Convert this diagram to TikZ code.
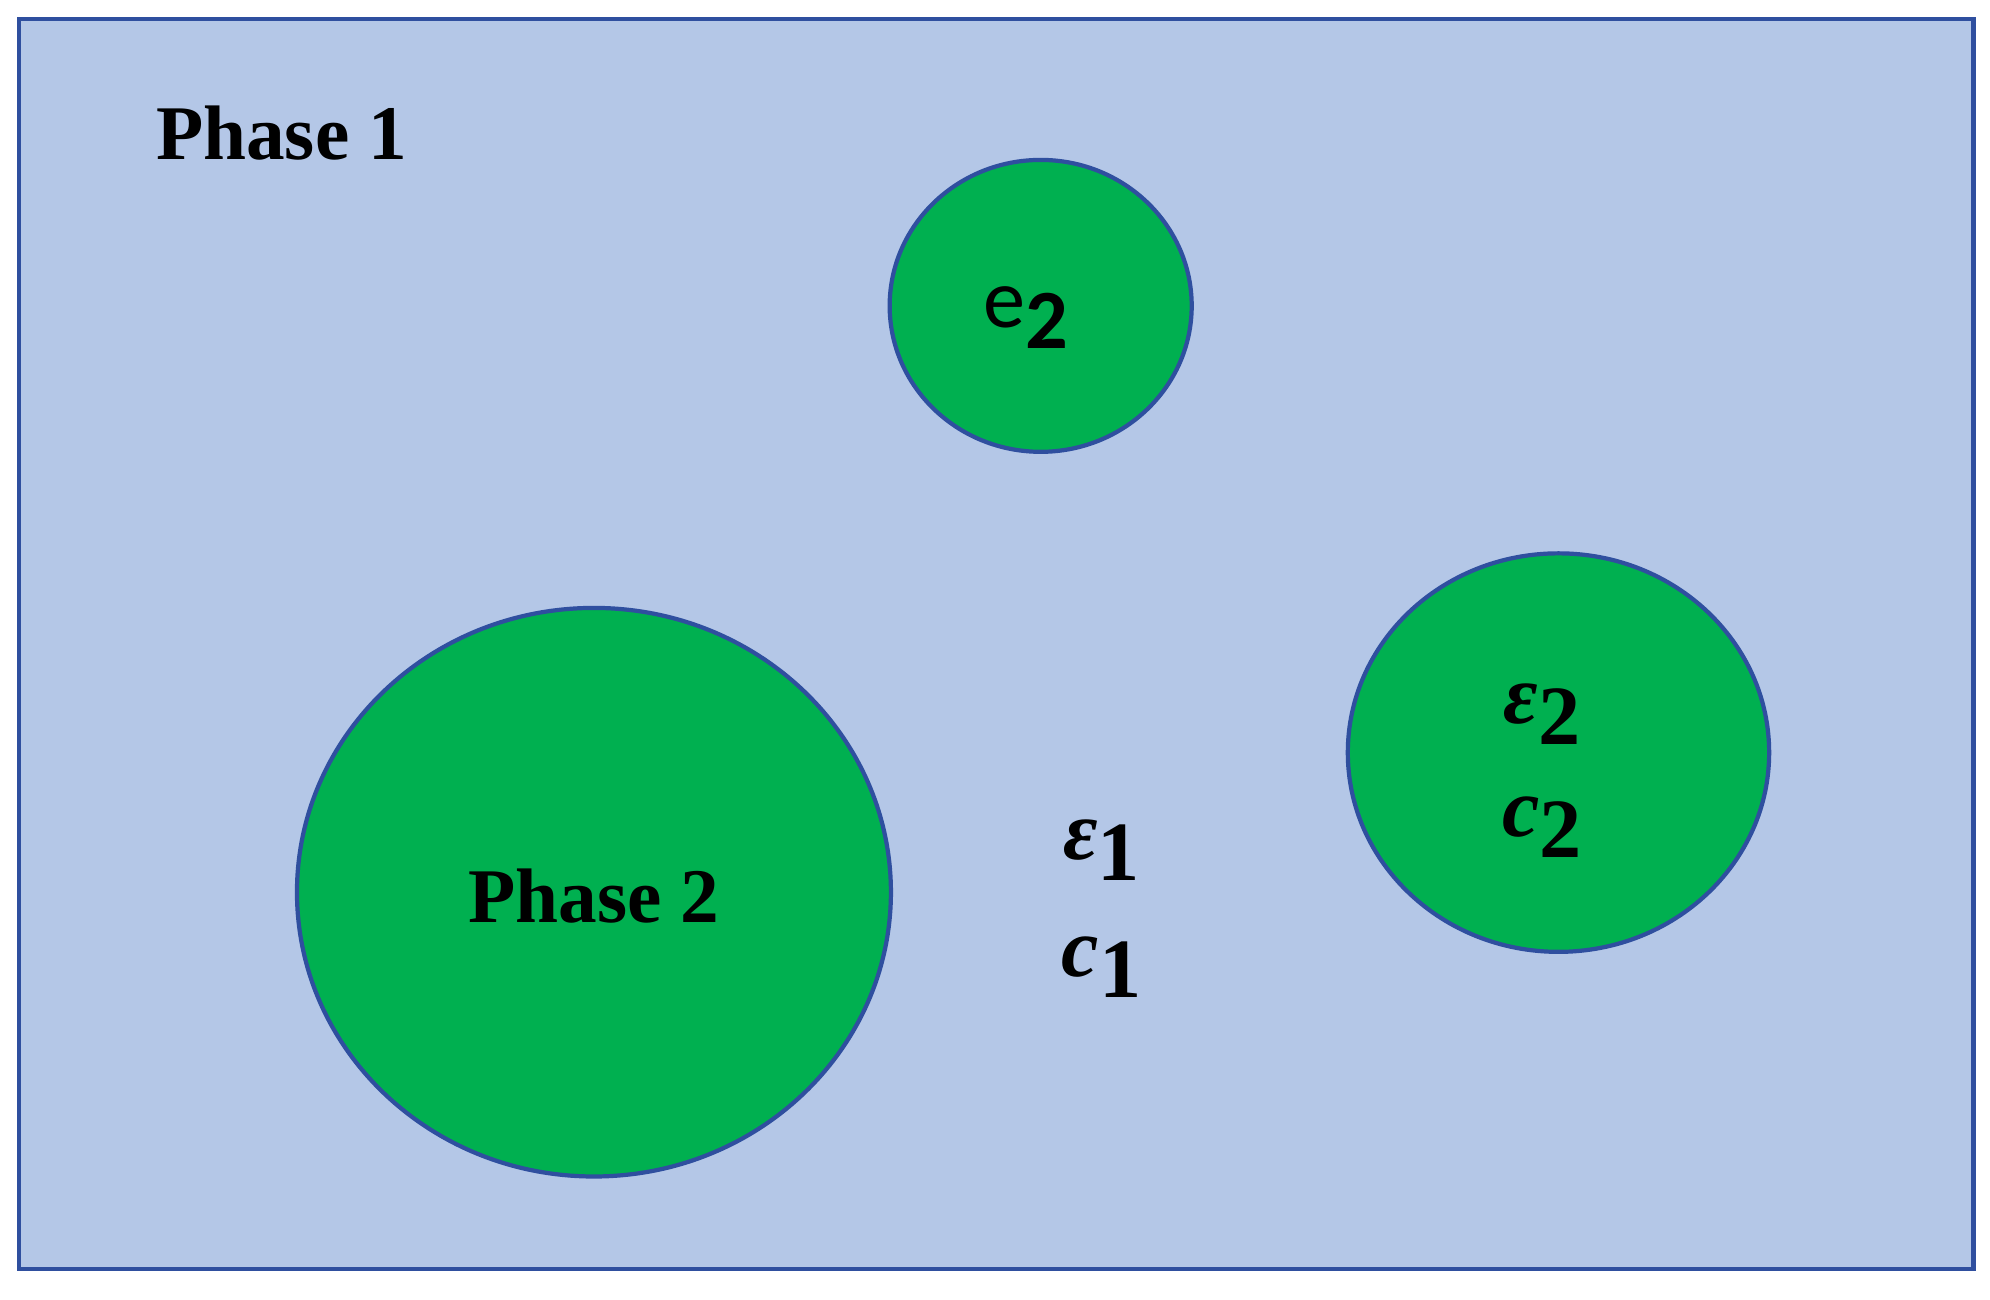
\documentclass[tikz,border=0pt]{standalone}
\usepackage{fontspec}
\setmainfont{Liberation Serif}
\newfontfamily\calfont{Carlito}
\definecolor{bgblue}{HTML}{B4C7E7}
\definecolor{edgeblue}{HTML}{2F4F9F}
\definecolor{grn}{HTML}{00B050}
\newcommand{\symb}[2]{{\bfseries\itshape #1}\raisebox{-0.25em}{\bfseries #2}}
\begin{document}
\begin{tikzpicture}[x=0.012691cm,y=-0.012691cm,
  blob/.style={draw=edgeblue,line width=1.2pt,fill=grn},
  lbl/.style={font=\fontsize{22}{26}\selectfont\bfseries,inner sep=0},
  sym/.style={font=\fontsize{24}{28}\selectfont,inner sep=0}]
\useasboundingbox (0,0) rectangle (1568,1023.6);
\draw[draw=edgeblue,line width=1.2pt,fill=bgblue] (15,15) rectangle (1555,1000);
\node[lbl] (p1) at (222,105) {Phase 1};
\draw[blob] (820,241) ellipse [x radius=119,y radius=115];
\draw[blob] (468,703) ellipse [x radius=234,y radius=224];
\draw[blob] (1228,593) ellipse [x radius=166,y radius=157];
\node[inner sep=0,font=\calfont\fontsize{24}{28}\selectfont] (e2) at (808,250) {e\raisebox{-0.25em}{\bfseries 2}};
\node[lbl] (p2) at (468,706) {Phase 2};
\node[sym] (eps2) at (1215,563) {\symb{ε}{2}};
\node[sym] (c2) at (1215,652) {\symb{c}{2}};
\node[sym] (eps1) at (868,670) {\symb{ε}{1}};
\node[sym] (c1) at (868,762) {\symb{c}{1}};
\end{tikzpicture}
\end{document}
